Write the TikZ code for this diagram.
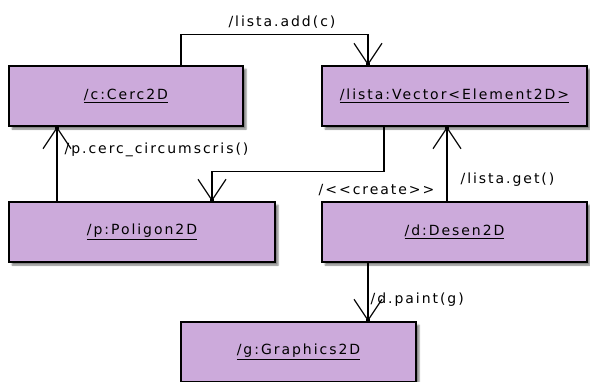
\documentclass[tikz,border=0pt]{standalone}
\usepackage{fontspec}
\newfontfamily\umlfont[LetterSpace=14]{DejaVu Sans}
\usetikzlibrary{arrows.meta, shadows.blur, decorations.markings}
\definecolor{objlilac}{RGB}{204,170,219}

\begin{document}
\begin{tikzpicture}[x=1pt, y=-1pt,
		font=\umlfont\fontsize{14}{16}\selectfont,
		obj/.style={draw, line width=1.3pt, fill=objlilac, minimum height=60pt, inner sep=0pt,
			blur shadow={shadow xshift=3pt, shadow yshift=-3pt, shadow blur steps=4, shadow opacity=50}},
		msg/.style={line width=1.2pt, -{Straight Barb[length=21pt, width=28pt, line width=1.2pt]},
			postaction={decorate}, decoration={markings, mark=at position 1 with {\fill (-2pt,-2pt) rectangle (2pt,2pt);}}},
		lbl/.style={inner sep=0pt}]
			\useasboundingbox (0,0) rectangle (590,381);
			\node[obj, minimum width=234pt] (c) at (126,96) {\underline{/c:Cerc2D}};
			\node[obj, minimum width=265pt] (lista) at (454.5,96) {\underline{/lista:Vector<Element2D>}};
			\node[obj, minimum width=266pt] (p) at (142,232) {\underline{/p:Poligon2D}};
			\node[obj, minimum width=265pt] (d) at (454.5,232) {\underline{/d:Desen2D}};
			\node[obj, minimum width=235pt] (g) at (298.5,352) {\underline{/g:Graphics2D}};
			\draw[msg] ([xshift=55pt]c.north) -- ++(0,-31) -| node[lbl, pos=0.27, above=5pt] (addlbl) {/lista.add(c)} ([xshift=-86.5pt]lista.north);
			\draw[msg] ([xshift=-70.5pt]lista.south) -- ++(0,45) -| ([xshift=70pt]p.north);
			\draw[msg] ([xshift=-85pt]p.north) -- node[lbl, pos=0.684, anchor=west, xshift=7pt] (circlbl) {/p.cerc\_circumscris()} ([xshift=-69pt]c.south);
			\draw[msg] ([xshift=-7.5pt]d.north) -- node[lbl, pos=0.145, anchor=east, xshift=-12pt] (createlbl) {/<{}<create>{}>} node[lbl, pos=0.29, anchor=west, xshift=13pt] (getlbl) {/lista.get()} ([xshift=-7.5pt]lista.south);
			\draw[msg] ([xshift=-86.5pt]d.south) -- node[lbl, pos=0.63, anchor=west, xshift=2pt] (paintlbl) {/d.paint(g)} ([xshift=69.5pt]g.north);
		\end{tikzpicture}
\end{document}
